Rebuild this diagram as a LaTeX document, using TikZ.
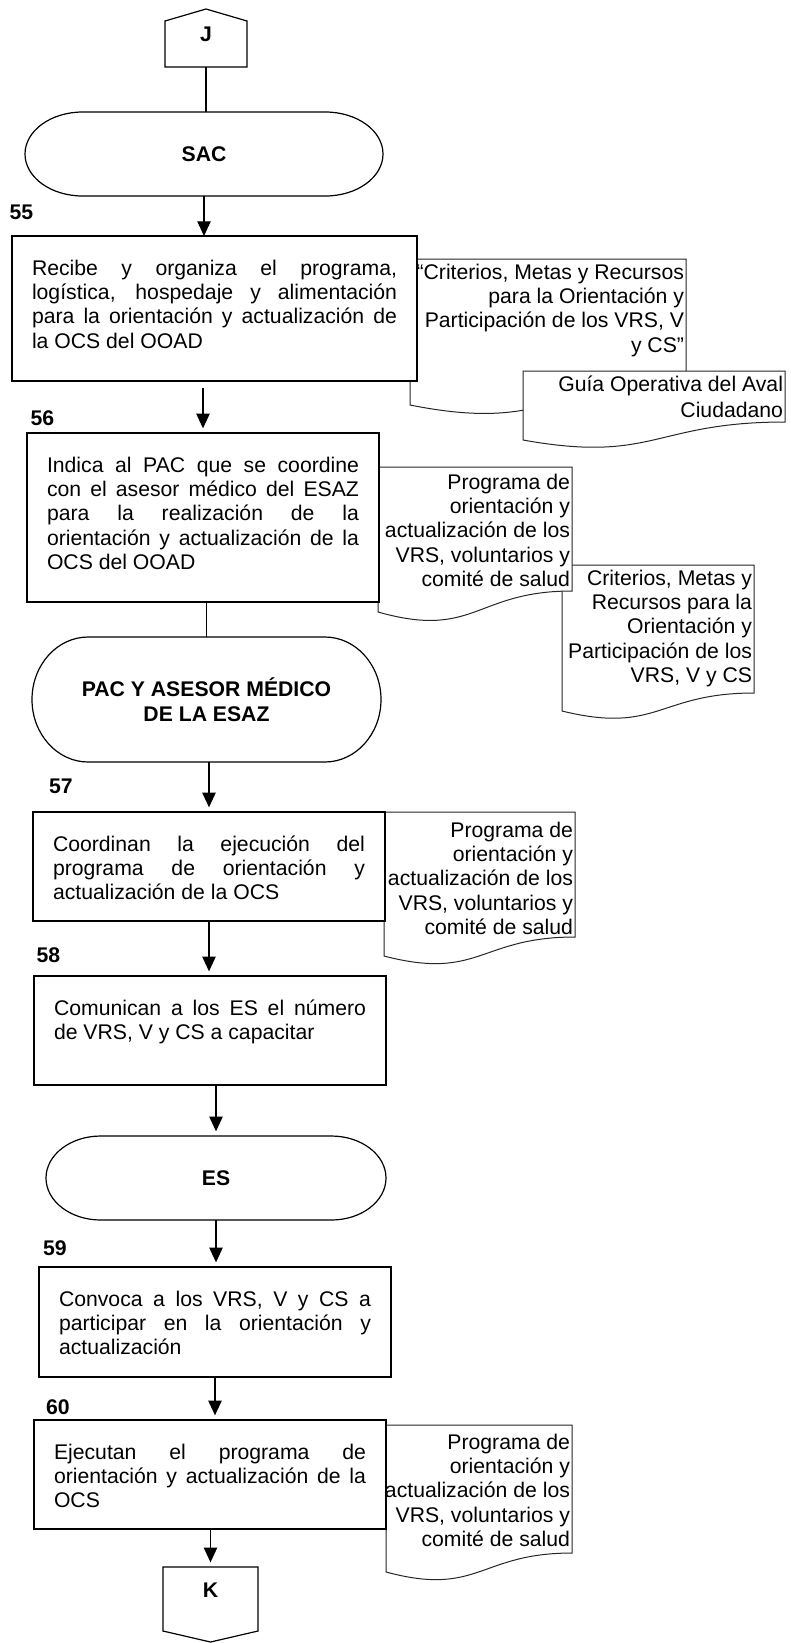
\documentclass[tikz,border=0pt]{standalone}
\usepackage{fontspec}
\setmainfont{Liberation Sans}
\usetikzlibrary{arrows.meta,calc}

% one drawing unit = one pixel of the sheet
\newdimen\pxu \pxu=0.75pt
\newcommand\bodyfont{\fontsize{15.9pt}{18.3pt}\selectfont}

\tikzset{
  stepbox/.style={draw, fill=white, line width=0.9pt, anchor=north west,
    inner xsep=15pt, inner ysep=0pt, outer sep=0pt},
  termnode/.style={inner sep=0pt, outer sep=0pt, align=center,
    font=\bodyfont\bfseries},
  termline/.style={draw, fill=white, line width=0.9pt},
  docline/.style={draw=black!85, fill=white, line width=0.75pt},
  doctext/.style={anchor=north east, inner sep=0pt, outer sep=0pt},
  numlabel/.style={font=\bodyfont\bfseries, inner sep=0pt},
  pageconn/.style={inner sep=0pt, outer sep=0pt, font=\bodyfont\bfseries,
    text height=11.4pt},
  plain/.style={draw, line width=0.9pt},
  flow/.style={draw, line width=0.9pt, -{Triangle[length=11pt,width=10pt]},
    shorten >=3.5pt}
}

% process box: name, left, top, right, bottom, justified text
\newcommand\stepnode[6]{%
  \pgfmathsetmacro\tmH{#5-#3}%
  \pgfmathsetmacro\tmTW{#4-#2-40}%
  \node[stepbox] (#1) at (#2,#3)
    {\parbox[t][\tmH\pxu][t]{\tmTW\pxu}{\bodyfont\rule{0pt}{39\pxu}#6}};%
}

% terminator: name, left, top, right, bottom, text
\newcommand\terminal[6]{%
  \pgfmathsetmacro\tmRX{0.161*(#4-#2)}%
  \pgfmathsetmacro\tmRY{(#5-#3)/2}%
  \pgfmathsetmacro\tmMY{(#3+#5)/2}%
  \pgfmathsetmacro\tmKX{0.5523*\tmRX}%
  \pgfmathsetmacro\tmKY{0.5523*\tmRY}%
  \pgfmathsetmacro\tmW{(#4-#2)*0.75}%
  \pgfmathsetmacro\tmHH{(#5-#3)*0.75}%
  \path[termline] (#2+\tmRX,#3) -- (#4-\tmRX,#3)
    .. controls (#4-\tmRX+\tmKX,#3) and (#4,\tmMY-\tmKY) .. (#4,\tmMY)
    .. controls (#4,\tmMY+\tmKY) and (#4-\tmRX+\tmKX,#5) .. (#4-\tmRX,#5)
    -- (#2+\tmRX,#5)
    .. controls (#2+\tmRX-\tmKX,#5) and (#2,\tmMY+\tmKY) .. (#2,\tmMY)
    .. controls (#2,\tmMY-\tmKY) and (#2+\tmRX-\tmKX,#3) .. cycle;
  \node[termnode, minimum width=\tmW pt, minimum height=\tmHH pt]
    (#1) at ({(#2+#4)/2},\tmMY) {#6};%
}

% document sheet: name, left, top, right, right end of wave, left end of wave,
% first baseline offset, right-aligned text (lines may run past the left edge)
\newcommand\docsheet[8]{%
  \pgfmathsetmacro\tmM{(#2+#4)/2}%
  \pgfmathsetmacro\tmC{#5+2.31*(#6-#5)}%
  \pgfmathsetmacro\tmDW{#4-#2+20}%
  \path[docline] (#2,#3) -- (#4,#3) -- (#4,#5)
    .. controls (\tmM,#5) and (\tmM,\tmC) .. (#2,#6) -- cycle;
  \node[doctext] (#1) at (#4-2,#3)
    {\parbox[t]{\tmDW\pxu}{\bodyfont\raggedleft\rule{0pt}{#7\pxu}#8}};%
}

\begin{document}
\begin{tikzpicture}[x=0.75pt, y=-0.75pt]
  \fill[white] (0,0) rectangle (790,1643);
  \useasboundingbox (0,0) rectangle (790,1643);

  % supporting documents
  \docsheet{docA}{410}{259}{686}{384}{405}{20}{“Criterios, Metas y Recursos\\para la Orientación y\\Participación de los VRS, V\\y CS”}
  \docsheet{docB}{523}{371}{785}{422}{440}{20}{Guía Operativa del Aval\\[1.7pt]Ciudadano}
  \docsheet{docD}{562}{565}{754}{693}{711}{20}{Criterios, Metas y\\Recursos para la\\Orientación y\\Participación de los\\VRS, V y CS}
  \docsheet{docC}{378}{467}{572}{591}{612}{22}{Programa de\\orientación y\\actualización de los\\VRS, voluntarios y\\comité de salud}
  \docsheet{docE}{384}{812}{575}{937}{956}{25}{Programa de\\orientación y\\actualización de los\\VRS, voluntarios y\\comité de salud}
  \docsheet{docF}{386}{1425}{572}{1553}{1572}{24}{Programa de\\orientación y\\actualización de los\\VRS, voluntarios y\\comité de salud}

  % off-page connector J
  \node[pageconn, minimum width=61.5pt, minimum height=43.5pt, text depth=6.8pt]
    (J) at (206,38) {J};
  \draw[line width=0.9pt] (J.south west) -- (J.south east) -- ([yshift=-9pt]J.north east)
    -- (J.north) -- ([yshift=-9pt]J.north west) -- cycle;

  % actors and steps
  \terminal{sac}{25}{112}{383}{196}{SAC}
  \stepnode{b55}{12}{236}{417}{381}{Recibe y organiza el programa,\linebreak logística, hospedaje y alimentación\linebreak para la orientación y actualización de\linebreak la OCS del OOAD}
  \stepnode{b56}{27}{433}{379}{602}{Indica al PAC que se coordine\linebreak con el asesor médico del ESAZ\linebreak para la realización de la\linebreak orientación y actualización de la\linebreak OCS del OOAD}
  \terminal{pac}{32}{637}{381}{762}{PAC Y ASESOR MÉDICO\\DE LA ESAZ}
  \stepnode{b57}{33}{812}{385}{921}{Coordinan la ejecución del\linebreak programa de orientación y\linebreak actualización de la OCS}
  \stepnode{b58}{34}{976}{386}{1085}{Comunican a los ES el número\linebreak de VRS, V y CS a capacitar}
  \terminal{es}{46}{1136}{386}{1220}{ES}
  \stepnode{b59}{39}{1267}{391}{1377}{Convoca a los VRS, V y CS a\linebreak participar en la orientación y\linebreak actualización}
  \stepnode{b60}{34}{1420}{386}{1529}{Ejecutan el programa de\linebreak orientación y actualización de la\linebreak OCS}

  % off-page connector K
  \node[pageconn, minimum width=71.25pt, minimum height=56.25pt, text depth=21.8pt]
    (K) at (210.5,1604.5) {K};
  \draw[line width=0.9pt] (K.north west) -- (K.north east) -- ([yshift=8.25pt]K.south east)
    -- (K.south) -- ([yshift=8.25pt]K.south west) -- cycle;

  % step numbers
  \node[numlabel] (n55) at (21.5,212) {55};
  \node[numlabel] (n56) at (42.5,418) {56};
  \node[numlabel] (n57) at (61,786.5) {57};
  \node[numlabel] (n58) at (48.5,955) {58};
  \node[numlabel] (n59) at (55,1248.5) {59};
  \node[numlabel] (n60) at (58,1407) {60};

  % flow
  \draw[plain] (J.south) -- (J.south |- sac.north);
  \draw[flow, shorten >=0pt] (sac.south) -- (sac.south |- b55.north);
  \draw[flow, shorten <=5pt] (b55.south -| b56.north) -- (b56.north);
  \draw[plain] (b56.south -| pac.north) -- (pac.north);
  \draw[flow] (pac.south -| b57.north) -- (b57.north);
  \draw[flow] (b57.south) -- (b57.south |- b58.north);
  \draw[flow] (b58.south -| es.north) -- (es.north);
  \draw[flow] (es.south) -- (es.south |- b59.north);
  \draw[flow] (b59.south) -- (b59.south |- b60.north);
  \draw[flow] (b60.south -| K.north) -- (K.north);
\end{tikzpicture}
\end{document}
